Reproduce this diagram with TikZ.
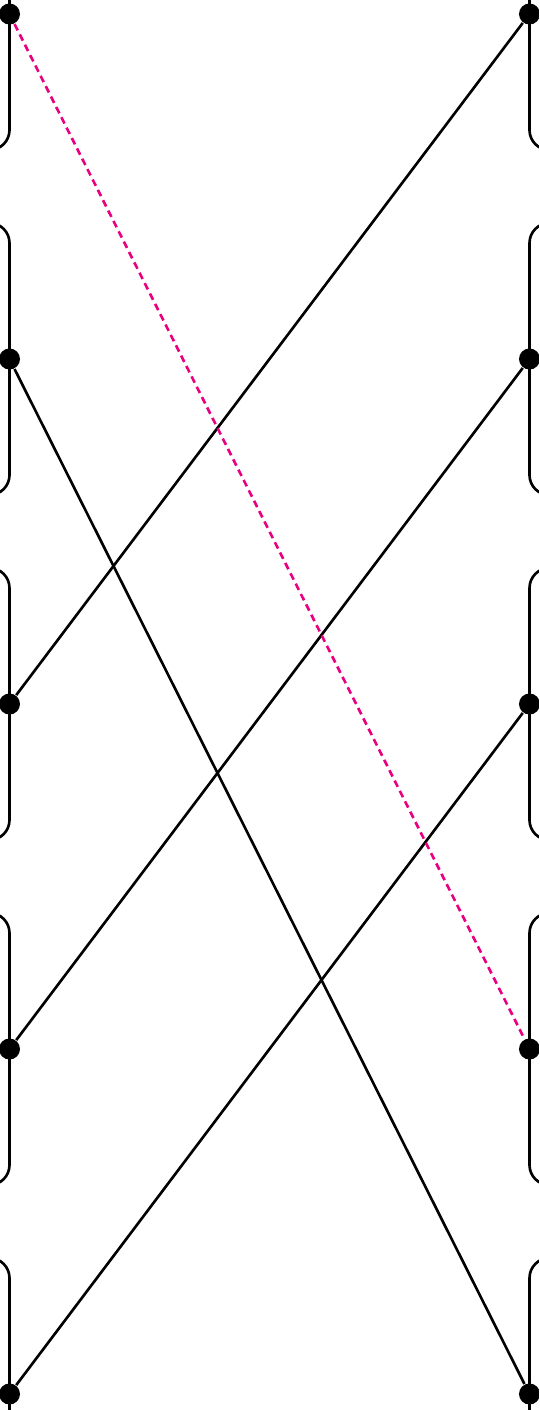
\documentclass[tikz,border=0pt]{standalone}
\usepackage{xcolor}
\usepackage{tikz}
\usetikzlibrary{calc}
\definecolor{linkpink}{RGB}{232,0,128}
\tikzset{
wire/.style={line width=0.75pt,black},
rail/.style={wire,rounded corners=2mm},
crosslink/.style={line width=0.75pt,linkpink,dash pattern=on 2pt off 1.3pt},
vdot/.style={circle,fill=black,inner sep=0pt,minimum size=2.1mm}
}
\begin{document}
\begin{tikzpicture}[x=1cm,y=1cm]
\useasboundingbox (-0.095,0.14) rectangle (5.295,-13.96);
\clip (-0.095,0.14) rectangle (5.295,-13.96);
% vertices
\node[vdot] (l1) at (0,0) {};
\node[vdot] (l2) at (0,-3.45) {};
\node[vdot] (l3) at (0,-6.90) {};
\node[vdot] (l4) at (0,-10.35) {};
\node[vdot] (l5) at (0,-13.80) {};
\node[vdot] (r1) at (5.20,0) {};
\node[vdot] (r2) at (5.20,-3.45) {};
\node[vdot] (r3) at (5.20,-6.90) {};
\node[vdot] (r4) at (5.20,-10.35) {};
\node[vdot] (r5) at (5.20,-13.80) {};
% left rails
\draw[rail] ($(l1)+(-1,1.5)$) -- ($(l1)+(0,1.5)$) -- ($(l1)+(0,-1.36)$) -- ($(l1)+(-1,-1.36)$);
\draw[rail] ($(l2)+(-1,1.36)$) -- ($(l2)+(0,1.36)$) -- ($(l2)+(0,-1.36)$) -- ($(l2)+(-1,-1.36)$);
\draw[rail] ($(l3)+(-1,1.36)$) -- ($(l3)+(0,1.36)$) -- ($(l3)+(0,-1.36)$) -- ($(l3)+(-1,-1.36)$);
\draw[rail] ($(l4)+(-1,1.36)$) -- ($(l4)+(0,1.36)$) -- ($(l4)+(0,-1.36)$) -- ($(l4)+(-1,-1.36)$);
\draw[rail] ($(l5)+(-1,1.36)$) -- ($(l5)+(0,1.36)$) -- ($(l5)+(0,-1.5)$) -- ($(l5)+(-1,-1.5)$);
% right rails
\draw[rail] ($(r1)+(1,1.5)$) -- ($(r1)+(0,1.5)$) -- ($(r1)+(0,-1.36)$) -- ($(r1)+(1,-1.36)$);
\draw[rail] ($(r2)+(1,1.36)$) -- ($(r2)+(0,1.36)$) -- ($(r2)+(0,-1.36)$) -- ($(r2)+(1,-1.36)$);
\draw[rail] ($(r3)+(1,1.36)$) -- ($(r3)+(0,1.36)$) -- ($(r3)+(0,-1.36)$) -- ($(r3)+(1,-1.36)$);
\draw[rail] ($(r4)+(1,1.36)$) -- ($(r4)+(0,1.36)$) -- ($(r4)+(0,-1.36)$) -- ($(r4)+(1,-1.36)$);
\draw[rail] ($(r5)+(1,1.36)$) -- ($(r5)+(0,1.36)$) -- ($(r5)+(0,-1.5)$) -- ($(r5)+(1,-1.5)$);
% crossings
\draw[wire] (r1)--(l3);
\draw[wire] (l2)--(r5);
\draw[wire] (r2)--(l4);
\draw[wire] (r3)--(l5);
\draw[crosslink] (l1)--(r4);
\end{tikzpicture}
\end{document}
